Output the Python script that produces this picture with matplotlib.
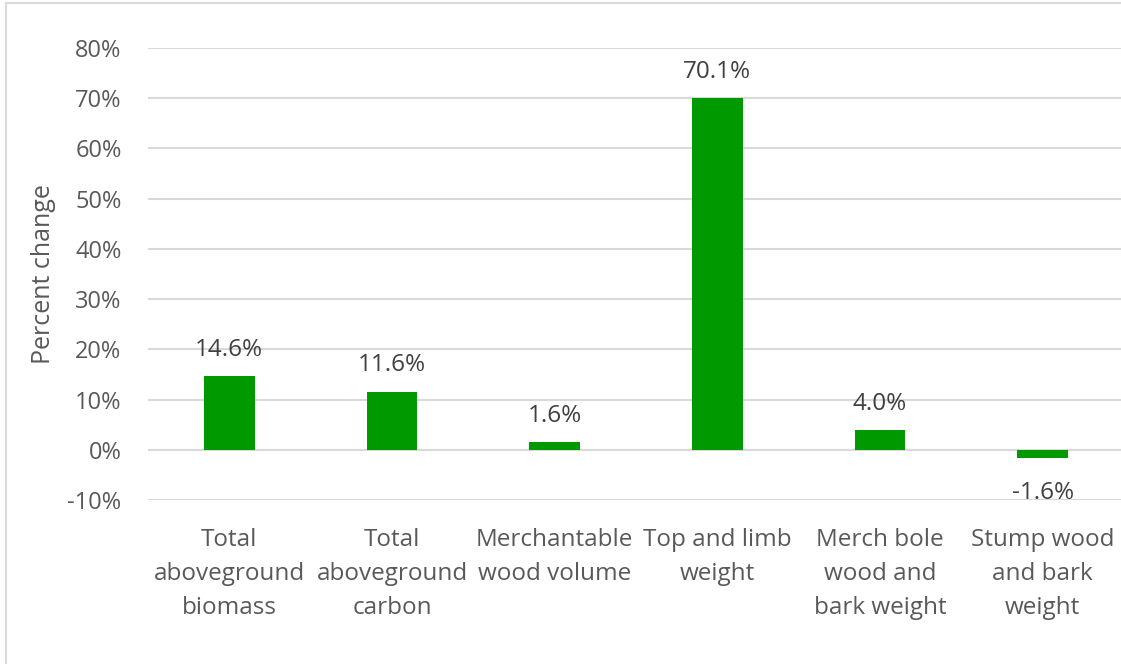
import matplotlib.pyplot as plt
from matplotlib.patches import Rectangle
from matplotlib.ticker import FuncFormatter

categories = [
    "Total\naboveground\nbiomass",
    "Total\naboveground\ncarbon",
    "Merchantable\nwood volume",
    "Top and limb\nweight",
    "Merch bole\nwood and\nbark weight",
    "Stump wood\nand bark\nweight",
]
values = [14.6, 11.6, 1.6, 70.1, 4.0, -1.6]
y_ticks = [-10, 0, 10, 20, 30, 40, 50, 60, 70, 80]

TEXT = "#595959"
GRID = "#d9d9d9"
GREEN = "#009900"

plt.rcParams["font.family"] = ["Open Sans", "DejaVu Sans"]

W, H = 1121, 664
fig = plt.figure(figsize=(W / 100, H / 100), dpi=100)

# chart frame (light grey border, cut off at right/bottom)
fig.patches.append(Rectangle((5.5 / W, -0.1), 2, 1 - 2.5 / H + 0.1,
                             transform=fig.transFigure, fill=False,
                             edgecolor=GRID, linewidth=1.5))

left, right = 148 / W, 1124 / W
bottom, top = 1 - 500 / H, 1 - 48 / H
ax = fig.add_axes([left, bottom, right - left, top - bottom])

x = range(len(categories))
bars = ax.bar(x, values, width=0.31, color=GREEN, zorder=3)

# value labels: above positive bars, below negative ones
for bar, v in zip(bars, values):
    cx = bar.get_x() + bar.get_width() / 2
    dy = 14.5 if v >= 0 else -29.5
    ax.annotate(f"{v:.1f}%", xy=(cx, v), xytext=(0, dy), textcoords="offset points",
                ha="center", va="baseline", fontsize=17.5, color="#404040")

ax.set_xlim(-0.5, len(categories) - 0.5)
ax.set_ylim(-10, 80)
ax.set_yticks(y_ticks)
ax.yaxis.set_major_formatter(FuncFormatter(lambda v, p: f"{v:.0f}%"))
ax.set_xticks(list(x))
ax.set_xticklabels(categories, linespacing=1.56)
ax.grid(axis="y", color=GRID, linewidth=1.5, zorder=0)
for s in ax.spines.values():
    s.set_visible(False)
ax.tick_params(axis="both", length=0, colors=TEXT)
ax.tick_params(axis="y", pad=19, labelsize=17)
ax.tick_params(axis="x", pad=20, labelsize=17.5)
ax.set_ylabel("Percent change", fontsize=18, color=TEXT, labelpad=8)

fig.savefig("out.png", dpi=100, facecolor="white")
